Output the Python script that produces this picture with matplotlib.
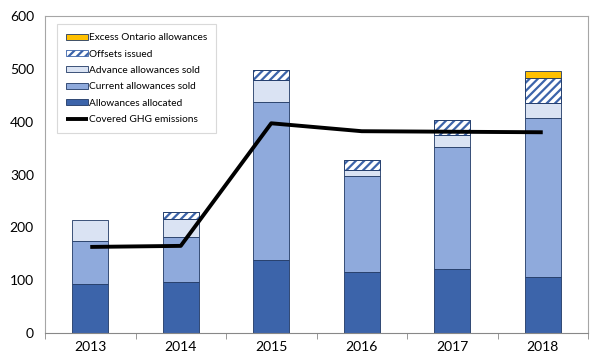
import numpy as np
import matplotlib.pyplot as plt

# data (Mt)
years = ['2013', '2014', '2015', '2016', '2017', '2018']
allocated = [93, 96, 138, 116, 121, 106]
current_sold = [81, 85, 299, 181, 231, 301]
advance_sold = [40, 35, 42, 12, 23, 29]
offsets = [0, 13, 18, 19, 28, 46]
excess_ontario = [0, 0, 0, 0, 0, 14]
emissions = [163, 165, 397, 382, 381, 380]

plt.rcParams['font.family'] = ['Lato', 'DejaVu Sans']
plt.rcParams['hatch.linewidth'] = 1.6

fig = plt.figure(figsize=(6, 3.64), dpi=100)
ax = fig.add_axes([0.075, 0.085, 0.905, 0.871])

x = np.arange(len(years))
w = 0.4
edge = '#1F3864'

# stack the bars
bottom = np.zeros(len(years))
layers = [
    (allocated, '#3C64AA', None, 'Allowances allocated'),
    (current_sold, '#8FAADC', None, 'Current allowances sold'),
    (advance_sold, '#DAE3F3', None, 'Advance allowances sold'),
    (offsets, 'white', '////', 'Offsets issued'),
    (excess_ontario, '#FFC000', None, 'Excess Ontario allowances'),
]
handles = []
for vals, col, hatch, lab in layers:
    vals = np.array(vals, dtype=float)
    keep = vals > 0
    if hatch:
        b = ax.bar(x[keep], vals[keep], w, bottom=bottom[keep], color=col,
                   edgecolor='#3C64AA', hatch=hatch, linewidth=0.6, label=lab)
        # dark outline on top of the hatch
        ax.bar(x[keep], vals[keep], w, bottom=bottom[keep],
               fill=False, edgecolor=edge, linewidth=0.6)
    else:
        b = ax.bar(x[keep], vals[keep], w, bottom=bottom[keep],
                   color=col, edgecolor=edge, linewidth=0.6, label=lab)
    handles.append(b)
    bottom += vals

line, = ax.plot(x, emissions, color='black', lw=2.8, label='Covered GHG emissions',
                solid_capstyle='butt')

ax.set_xlim(-0.5, 5.5)
ax.set_ylim(0, 600)
ax.set_yticks(range(0, 601, 100))
ax.set_xticks(x)
ax.set_xticklabels(years)
ax.set_xticks(np.arange(-0.5, 5.6, 1), minor=True)
ax.tick_params(axis='x', which='major', length=0, labelsize=10, pad=6)
ax.tick_params(axis='x', which='minor', length=4, color='#888888', direction='out')
ax.tick_params(axis='y', length=0, labelsize=10, pad=8)
for s in ax.spines.values():
    s.set_color('#A6A6A6')
    s.set_linewidth(0.8)
ax.spines['bottom'].set_color('#888888')

leg = ax.legend(handles[::-1] + [line],
                [h.get_label() for h in handles[::-1]] + ['Covered GHG emissions'],
                loc='upper left', bbox_to_anchor=(0.012, 0.99), fontsize=7.3,
                handlelength=2.2, handleheight=0.55, handletextpad=0.1,
                labelspacing=0.72, borderpad=0.9, fancybox=False,
                edgecolor='#D9D9D9', framealpha=1)
leg.get_frame().set_linewidth(0.8)

fig.savefig('out.png', dpi=100)
